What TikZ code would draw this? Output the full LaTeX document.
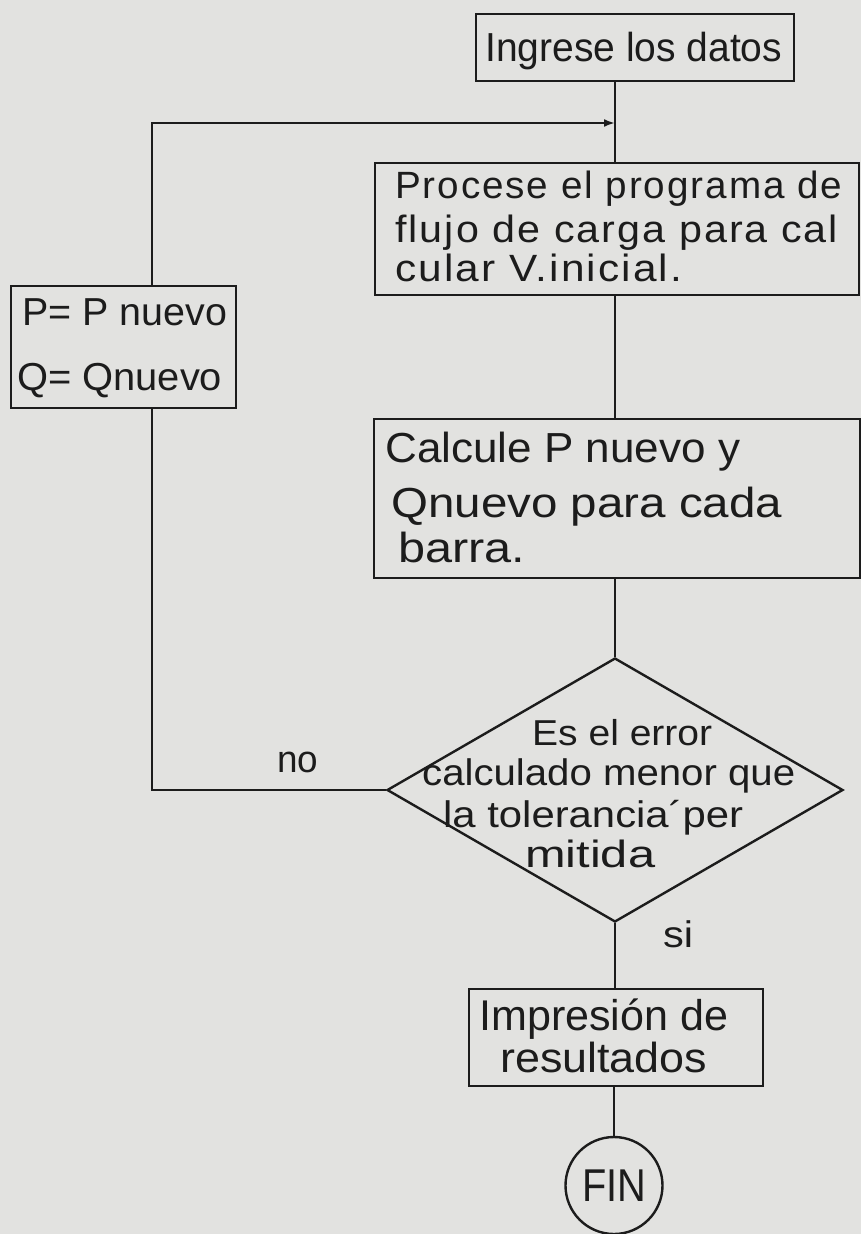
\documentclass[tikz,border=0pt]{standalone}
\usepackage{fontspec}
\setmainfont{Liberation Sans}
\usepackage{graphicx}
\usetikzlibrary{shapes.geometric,arrows.meta}
\definecolor{paper}{RGB}{226,226,224}
\definecolor{ink}{RGB}{28,28,28}
\newcommand{\fitln}[3]{{\fontsize{#1}{#1}\selectfont\resizebox{#2pt}{\height}{#3}}}
\newcommand{\fitlnw}[3]{{\fontsize{#1}{#1}\selectfont\addfontfeature{LetterSpace=5}\resizebox{#2pt}{\height}{#3}}}
\begin{document}
\begin{tikzpicture}[x=1pt,y=-1pt,
  box/.style={draw=ink, line width=2.6pt, rectangle, inner sep=0pt},
  conn/.style={draw=ink, line width=2.5pt},
  txt/.style={anchor=base west, inner sep=0pt, text=ink}]
\fill[paper] (0,0) rectangle (861,1234);
\useasboundingbox (0,0) rectangle (861,1234);
\coordinate (spine) at (615,0);
\coordinate (loopx) at (152,0);
\coordinate (join) at (615,123);
% shapes
\node[box, minimum width=318pt, minimum height=67pt] (ingrese) at (635,47.5) {};
\node[box, minimum width=484pt, minimum height=132pt] (procese) at (617,229) {};
\node[box, minimum width=225pt, minimum height=122pt] (pq) at (123.5,347) {};
\node[box, minimum width=486pt, minimum height=159pt] (calcule) at (617,498.5) {};
\node[draw=ink, line width=2.4pt, diamond, inner sep=0pt, minimum width=456pt, minimum height=264pt] (dec) at (615,790) {};
\node[box, minimum width=294pt, minimum height=97pt] (impresion) at (616,1037.5) {};
\node[draw=ink, line width=2.4pt, circle, inner sep=0pt, minimum size=97pt, text=ink] (fin) at (614,1185.5) {\fitln{46}{64}{FIN}};
% texts
\node[txt] (t1) at (485,61) {\fitln{40.5}{297}{Ingrese los datos}};
\node[txt] (t2) at (395,198) {\fitlnw{38}{447}{Procese el programa de}};
\node[txt] (t3) at (395,242) {\fitlnw{38}{443}{flujo de carga para cal}};
\node[txt] (t4) at (395,281) {\fitlnw{38}{287}{cular V.inicial.}};
\node[txt] (t5) at (22,325) {\fitln{39}{205}{P= P nuevo}};
\node[txt] (t6) at (17,390) {\fitln{39}{205}{Q= Qnuevo}};
\node[txt] (t7) at (385,462) {\fitln{42}{355}{Calcule P nuevo y}};
\node[txt] (t8) at (391,517) {\fitln{42}{391}{Qnuevo para cada}};
\node[txt] (t9) at (398,562) {\fitln{42}{127}{barra.}};
\node[txt] (t10) at (532,745) {\fitln{36}{180}{Es el error}};
\node[txt] (t11) at (422,785) {\fitln{37}{373}{calculado menor que}};
\node[txt] (t12) at (443,827) {\fitln{37}{300}{la tolerancia´per}};
\node[txt] (t13) at (525,867) {\fitln{38}{130}{mitida}};
\node[txt] (t14) at (479,1030) {\fitln{43}{249}{Impresión de}};
\node[txt] (t15) at (500,1072) {\fitln{42}{207}{resultados}};
\node[txt] (no) at (277,772) {\fitln{38}{41}{no}};
\node[txt] (si) at (663,947) {\fitln{37}{30}{si}};
% connectors
\draw[conn] (ingrese.south -| spine) -- (procese.north -| spine);
\draw[conn] (procese.south -| spine) -- (calcule.north -| spine);
\draw[conn] (calcule.south -| spine) -- (dec.north);
\draw[conn] (dec.south) -- (impresion.north -| spine);
\draw[conn] (impresion.south -| fin) -- (fin.north);
\draw[conn] (dec.west) -| (pq.south -| loopx);
\draw[conn, -{Latex[length=11pt,width=8pt]}] (pq.north -| loopx) |- (join);
\end{tikzpicture}
\end{document}
